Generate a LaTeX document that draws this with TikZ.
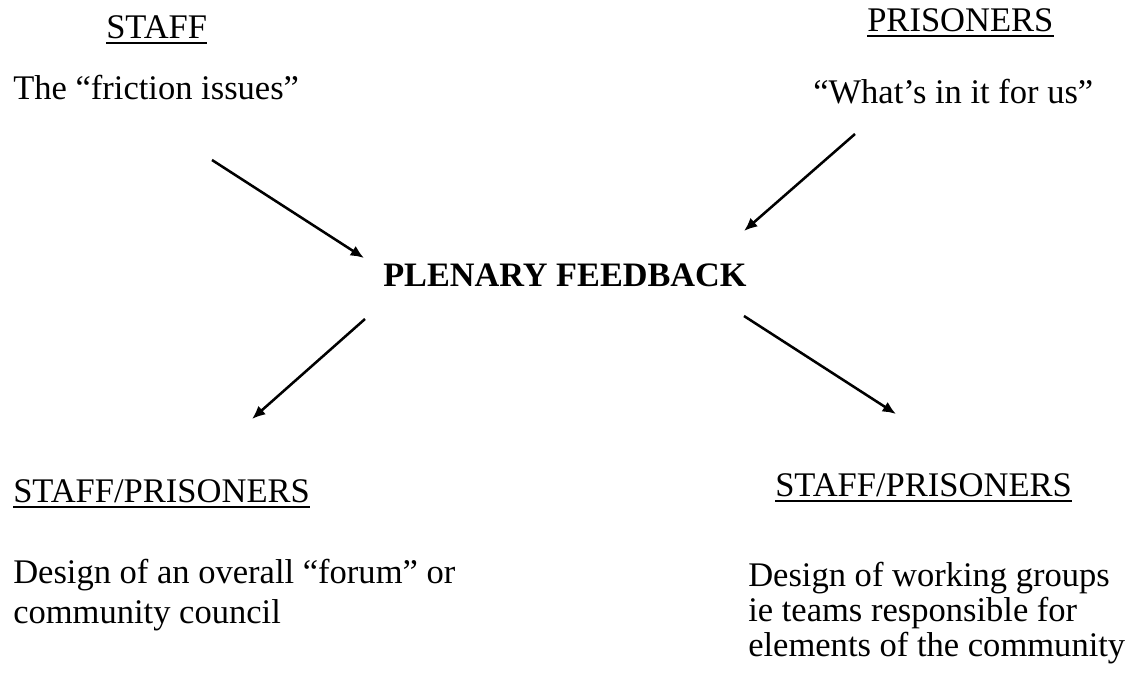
\documentclass[tikz,border=0pt]{standalone}
\usepackage{fontspec}
\setmainfont{Liberation Serif}
\usetikzlibrary{arrows.meta}
\begin{document}
\begin{tikzpicture}[x=0.75pt,y=-0.75pt,
  txt/.style={inner sep=0pt, anchor=base west, font=\fontsize{25.9}{26.3}\selectfont},
  boldtxt/.style={txt, font=\fontsize{25.7}{26.3}\selectfont\bfseries},
  ulline/.style={line width=1.3pt},
  arr/.style={line width=1.9pt, -{Latex[length=10pt,width=8.5pt]}}]
\useasboundingbox (0,0) rectangle (1133,673);
% top left
\node[txt] (staff) at (106,39) {STAFF};
\draw[ulline] ([yshift=-3pt]staff.base west) -- ([yshift=-3pt]staff.base east);
\node[txt] (friction) at (13,100) {The “friction issues”};
% top right
\node[txt] (prisoners) at (867,32) {PRISONERS};
\draw[ulline] ([yshift=-3pt]prisoners.base west) -- ([yshift=-3pt]prisoners.base east);
\node[txt] (whats) at (813,104) {“What’s in it for us”};
% centre
\node[boldtxt] (plenary) at (383,287) {PLENARY FEEDBACK};
% bottom left
\node[txt] (spl) at (13,503) {STAFF/PRISONERS};
\draw[ulline] ([yshift=-3pt]spl.base west) -- ([yshift=-3pt]spl.base east);
\node[txt] (forum1) at (13,584) {Design of an overall “forum” or};
\node[txt] (forum2) at (13,624) {community council};
% bottom right
\node[txt] (spr) at (775,497) {STAFF/PRISONERS};
\draw[ulline] ([yshift=-3pt]spr.base west) -- ([yshift=-3pt]spr.base east);
\node[txt] (work1) at (748,587) {Design of working groups};
\node[txt] (work2) at (748,622) {ie teams responsible for};
\node[txt] (work3) at (748,657) {elements of the community};
% arrow ends
\coordinate (a1s) at (212,160);
\coordinate (a1e) at (364,258);
\coordinate (a2s) at (855,134);
\coordinate (a2e) at (744,231);
\coordinate (a3s) at (365,319);
\coordinate (a3e) at (252,419);
\coordinate (a4s) at (744,316);
\coordinate (a4e) at (896,414);
\draw[arr] (a1s) -- (a1e);
\draw[arr] (a2s) -- (a2e);
\draw[arr] (a3s) -- (a3e);
\draw[arr] (a4s) -- (a4e);
\end{tikzpicture}
\end{document}
